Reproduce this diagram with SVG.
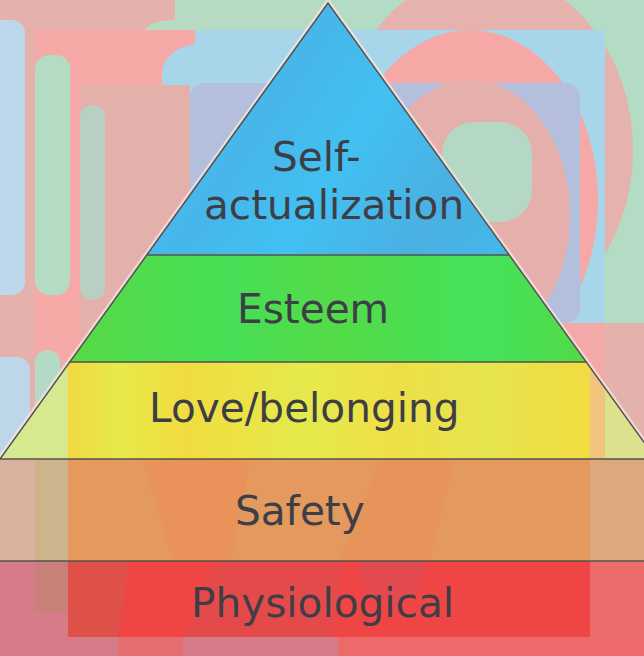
<svg xmlns="http://www.w3.org/2000/svg" width="644" height="656" viewBox="0 0 644 656">
<defs>
<style>
.lbl{font-family:"DejaVu Sans","Verdana",sans-serif;font-size:40.6px;fill:#3e3e47}
.div{stroke:#55524e;stroke-width:1.5;fill:none}
</style>
<linearGradient id="gBlue" gradientUnits="userSpaceOnUse" x1="150" y1="20" x2="510" y2="255">
<stop offset="0" stop-color="#3fc4f4"/>
<stop offset="0.35" stop-color="#47b6ea"/>
<stop offset="0.55" stop-color="#42c0f1"/>
<stop offset="0.8" stop-color="#4ab0e2"/>
<stop offset="1" stop-color="#44b8ea"/>
</linearGradient>
<linearGradient id="gGreen" gradientUnits="userSpaceOnUse" x1="70" y1="0" x2="590" y2="0">
<stop offset="0" stop-color="#56d946"/>
<stop offset="0.3" stop-color="#47df56"/>
<stop offset="0.5" stop-color="#54db48"/>
<stop offset="0.8" stop-color="#45e25a"/>
<stop offset="1" stop-color="#55d848"/>
</linearGradient>
<linearGradient id="gYellow" gradientUnits="userSpaceOnUse" x1="68" y1="0" x2="590" y2="0">
<stop offset="0" stop-color="#f2d843"/>
<stop offset="0.1" stop-color="#e6ea4a"/>
<stop offset="0.22" stop-color="#f2dc40"/>
<stop offset="0.45" stop-color="#e5ea4c"/>
<stop offset="0.62" stop-color="#eee046"/>
<stop offset="0.8" stop-color="#e6e44e"/>
<stop offset="1" stop-color="#f3dc42"/>
</linearGradient>
</defs>

<g id="background">
<rect x="0" y="0" width="644" height="656" fill="#b4dbc3"/>
<rect x="0" y="0" width="330" height="459" fill="#e4b1ac"/>
<path d="M175,0 H340 V30 H145 Q150,20 175,20 Z" fill="#b6dbc2"/>
<rect x="160" y="30" width="445" height="293" fill="#a7d5ea"/>
<ellipse cx="485" cy="150" rx="148" ry="178" fill="#e6b2ad"/>
<rect x="354" y="30" width="251" height="293" fill="#a7d5ea"/>
<ellipse cx="470" cy="200" rx="128" ry="170" fill="#f6a8a6"/>
<rect x="190" y="83" width="390" height="240" rx="15" fill="#b4bfdd"/>
<ellipse cx="470" cy="215" rx="100" ry="135" fill="#e5b0ab"/>
<rect x="442" y="122" width="90" height="100" rx="32" fill="#b4d8c3"/>
<rect x="540" y="323" width="65" height="100" fill="#f2a9a7"/>
<rect x="605" y="323" width="39" height="136" fill="#e4b2ad"/>
<path d="M35,30 H195 V44 Q168,48 162,70 V85 H80 V360 H35 Z" fill="#f6a9a6"/>
<rect x="80" y="85" width="110" height="374" fill="#e3b0ab"/>
<rect x="-15" y="20" width="40" height="275" rx="13" fill="#bdd8ea"/>
<rect x="35" y="55" width="35" height="240" rx="14" fill="#b3dcc3"/>
<rect x="80" y="105" width="25" height="195" rx="12" fill="#bacfc4"/>
<rect x="-15" y="357" width="45" height="120" rx="13" fill="#bdd7e8"/>
<rect x="35" y="350" width="25" height="120" rx="12" fill="#b4d9c5"/>
</g>

<polyline points="0,459 328,3 656,459" fill="none" stroke="#f6e6e6" stroke-width="6" stroke-opacity="0.75"/>

<g id="physiological">
<rect x="0" y="561" width="644" height="95" fill="#d67c89"/>
<rect x="118" y="637" width="65" height="19" fill="#e66e70"/>
<rect x="338" y="637" width="306" height="19" fill="#ec6b6a"/>
<rect x="35" y="561" width="33" height="51" fill="#c98079"/>
<rect x="590" y="561" width="54" height="76" fill="#ec6c6b"/>
<rect x="68" y="561" width="522" height="76" fill="#ef4545"/>
<polygon points="68,561 130,561 118,637 68,637" fill="#df5049"/>
<polygon points="215,561 345,561 330,637 185,637" fill="#dd4f50" opacity="0.6"/>
<path d="M360,561 H425 Q425,600 395,602 Q365,600 360,575 Z" fill="#d4505e" opacity="0.45"/>
<text class="lbl" x="191" y="617">Physiological</text>
</g>

<g id="safety">
<rect x="0" y="459" width="644" height="102" fill="#d9b3a0"/>
<rect x="35" y="459" width="33" height="102" fill="#ccb58c"/>
<rect x="590" y="459" width="54" height="102" fill="#dca880"/>
<rect x="68" y="459" width="522" height="102" fill="#e4995f"/>
<polygon points="143,459 250,459 232,561 173,561" fill="#f08a52" opacity="0.45"/>
<polygon points="380,459 455,459 430,561 340,561" fill="#f08a52" opacity="0.3"/>
<text class="lbl" x="235" y="525">Safety</text>
</g>

<g id="love-belonging">
<polygon points="69.5,362 586.5,362 656,459 0,459" fill="url(#gYellow)"/>
<polygon points="68,364 68,459 0,459" fill="#d6e98e"/>
<polygon points="590,367 656,459 590,459" fill="#dde08c"/>
<polygon points="590,367 605,388 605,459 590,459" fill="#f1c47e"/>
<text class="lbl" x="149" y="422">Love/belonging</text>
</g>

<g id="esteem">
<polygon points="147,255 509,255 586.5,362 69.5,362" fill="url(#gGreen)"/>
<text class="lbl" x="237" y="323">Esteem</text>
</g>

<g id="self-actualization">
<polygon points="328,3 509,255 147,255" fill="url(#gBlue)"/>
<text class="lbl" x="272" y="171">Self-</text>
<text class="lbl" x="204" y="218.6">actualization</text>
</g>

<g id="connectors">
<polyline class="div" points="0,459 328,3 656,459" stroke-width="1.3"/>
<line class="div" x1="147" y1="255" x2="509" y2="255"/>
<line class="div" x1="69.5" y1="362" x2="586.5" y2="362"/>
<line class="div" x1="0" y1="459" x2="644" y2="459"/>
<line class="div" x1="0" y1="561" x2="644" y2="561"/>
</g>
</svg>
